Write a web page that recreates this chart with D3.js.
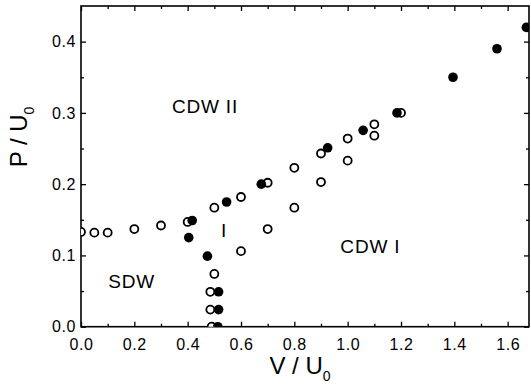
<!DOCTYPE html>
<meta charset="utf-8">
<script src="https://d3js.org/d3.v7.min.js"></script>
<style>
  body { margin: 0; background: #fff; }
  text { font-family: "Liberation Sans", Arial, sans-serif; fill: #000; }
</style>
<div id="my_dataviz"></div>
<script>

// open circles: V / U0, P / U0
var openV = [0.0, 0.05, 0.1, 0.2, 0.3, 0.4, 0.5, 0.6, 0.7, 0.8, 0.9, 1.0, 1.1, 1.2,
             0.6, 0.7, 0.8, 0.9, 1.0, 1.1,
             0.5, 0.485, 0.485, 0.49];
var openP = [0.133, 0.132, 0.132, 0.137, 0.142, 0.147, 0.167, 0.182, 0.202, 0.223, 0.243, 0.264, 0.284, 0.300,
             0.106, 0.137, 0.167, 0.203, 0.233, 0.268,
             0.074, 0.049, 0.024, 0.0];

// filled circles
var fullV = [0.404, 0.417, 0.474, 0.546, 0.676, 0.925, 1.058, 1.185, 1.395, 1.56, 1.67, 0.516, 0.516, 0.513];
var fullP = [0.125, 0.149, 0.099, 0.175, 0.200, 0.251, 0.2755, 0.300, 0.350, 0.390, 0.420, 0.049, 0.024, 0.0];

var xMajor = [0, 0.2, 0.4, 0.6, 0.8, 1.0, 1.2, 1.4, 1.6];
var xMinor = [0.1, 0.3, 0.5, 0.7, 0.9, 1.1, 1.3, 1.5];
var yMajor = [0, 0.1, 0.2, 0.3, 0.4];
var yMinor = [0.05, 0.15, 0.25, 0.35];

var regionLabels = ["CDW II", "CDW I", "SDW", "I"];
var regionV = [0.465, 1.085, 0.19, 0.536];
var regionP = [0.3, 0.104, 0.054, 0.126];

var width = 531, height = 388;
var mLeft = 81, mRight = 529, mTop = 6, mBottom = 326.7;

var svg = d3.select("#my_dataviz")
  .append("svg")
    .attr("width", width)
    .attr("height", height);

var x = d3.scaleLinear().domain([0, 1.68]).range([mLeft, mRight]);
var y = d3.scaleLinear().domain([0, 0.45]).range([mBottom, mTop]);

svg.append("clipPath").attr("id", "clip")
  .append("rect")
    .attr("x", mLeft).attr("y", mTop)
    .attr("width", mRight - mLeft).attr("height", mBottom - mTop);

var fmt = d3.format(".1f");

function styleAxis(g) {
  g.select(".domain").remove();
  g.selectAll("line").attr("stroke", "#000").attr("stroke-width", 1.3);
  g.selectAll("text").style("font-size", "16px").attr("letter-spacing", "0.6px");
}

// bottom
svg.append("g").attr("transform", "translate(0," + mBottom + ")")
  .call(d3.axisBottom(x).tickValues(xMajor).tickSize(-5).tickPadding(12).tickFormat(fmt))
  .call(styleAxis);
svg.append("g").attr("transform", "translate(0," + mBottom + ")")
  .call(d3.axisBottom(x).tickValues(xMinor).tickSize(-3).tickFormat(""))
  .call(styleAxis);
// top
svg.append("g").attr("transform", "translate(0," + mTop + ")")
  .call(d3.axisTop(x).tickValues(xMajor).tickSize(-5).tickFormat(""))
  .call(styleAxis);
svg.append("g").attr("transform", "translate(0," + mTop + ")")
  .call(d3.axisTop(x).tickValues(xMinor).tickSize(-3).tickFormat(""))
  .call(styleAxis);
// left
svg.append("g").attr("transform", "translate(" + mLeft + ",0)")
  .call(d3.axisLeft(y).tickValues(yMajor).tickSize(-5).tickPadding(5).tickFormat(fmt))
  .call(styleAxis);
svg.append("g").attr("transform", "translate(" + mLeft + ",0)")
  .call(d3.axisLeft(y).tickValues(yMinor).tickSize(-3).tickFormat(""))
  .call(styleAxis);
// right
svg.append("g").attr("transform", "translate(" + mRight + ",0)")
  .call(d3.axisRight(y).tickValues(yMajor).tickSize(-5).tickFormat(""))
  .call(styleAxis);
svg.append("g").attr("transform", "translate(" + mRight + ",0)")
  .call(d3.axisRight(y).tickValues(yMinor).tickSize(-3).tickFormat(""))
  .call(styleAxis);

// frame
svg.append("rect")
  .attr("x", mLeft).attr("y", mTop)
  .attr("width", mRight - mLeft).attr("height", mBottom - mTop)
  .attr("fill", "none").attr("stroke", "#000").attr("stroke-width", 1.6);

var pts = svg.append("g").attr("clip-path", "url(#clip)");

pts.selectAll(".open")
  .data(openV.map(function(v, i) { return [v, openP[i]]; }))
  .enter().append("circle")
    .attr("cx", function(d) { return x(d[0]); })
    .attr("cy", function(d) { return y(d[1]); })
    .attr("r", 4)
    .attr("fill", "#fff")
    .attr("stroke", "#000")
    .attr("stroke-width", 1.8);

pts.selectAll(".full")
  .data(fullV.map(function(v, i) { return [v, fullP[i]]; }))
  .enter().append("circle")
    .attr("cx", function(d) { return x(d[0]); })
    .attr("cy", function(d) { return y(d[1]); })
    .attr("r", 4.8)
    .attr("fill", "#000");

// region labels
svg.selectAll(".region")
  .data(regionLabels)
  .enter().append("text")
    .attr("x", function(d, i) { return x(regionV[i]); })
    .attr("y", function(d, i) { return y(regionP[i]); })
    .attr("text-anchor", "middle")
    .attr("letter-spacing", "0.8px")
    .style("font-size", "19px")
    .text(function(d) { return d; });

// axis titles
var xt = svg.append("text")
  .attr("x", 300).attr("y", 374)
  .attr("text-anchor", "middle")
  .style("font-size", "24px");
xt.append("tspan").text("V / U");
xt.append("tspan").attr("dy", 7).style("font-size", "14px").text("0");

var yt = svg.append("text")
  .attr("transform", "translate(27,137) rotate(-90)")
  .attr("text-anchor", "middle")
  .style("font-size", "24px");
yt.append("tspan").text("P / U");
yt.append("tspan").attr("dy", 7).style("font-size", "14px").text("0");

</script>
